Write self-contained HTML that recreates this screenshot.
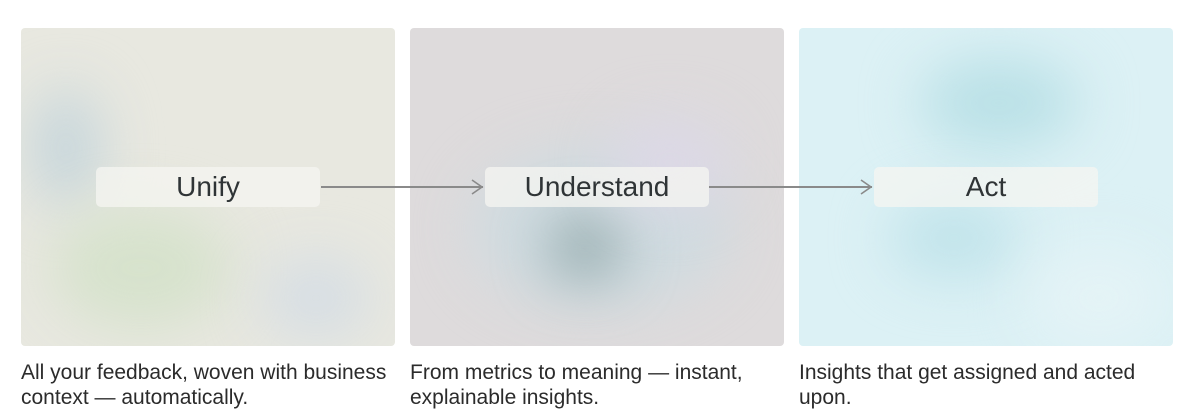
<!DOCTYPE html>
<html><head><style>
body{margin:0;width:1197px;height:419px;background:#fff;position:relative;overflow:hidden;font-family:"Liberation Sans",sans-serif}
.p{position:absolute;top:28px;width:374px;height:318px;border-radius:4px;overflow:hidden}
.b{position:absolute;border-radius:50%;filter:blur(28px)}
.l{position:absolute;top:167px;width:224px;height:40px;border-radius:5px;background:rgba(245,245,242,.75);font-size:28px;color:#2f3436;text-align:center;line-height:40px}
.c{position:absolute;top:360px;font-size:21px;line-height:25px;color:#2b2b2b;width:400px;white-space:nowrap}
.a{position:absolute;top:186px;height:2px;background:#8a8a8a}
</style></head><body>
<div class="p" style="left:21px;background:#e8e8e0">
 <div class="b" style="left:10px;top:60px;width:70px;height:120px;background:#c5d5db"></div>
 <div class="b" style="left:30px;top:180px;width:180px;height:120px;background:#d6e2cc"></div>
 <div class="b" style="left:240px;top:230px;width:110px;height:80px;background:#d5dde4"></div>
</div>
<div class="p" style="left:410px;background:#dedbdc">
 <div class="b" style="left:60px;top:120px;width:260px;height:160px;background:#cfdbe0"></div>
 <div class="b" style="left:140px;top:190px;width:70px;height:60px;background:#8fa6a8"></div>
 <div class="b" style="left:200px;top:90px;width:120px;height:90px;background:#dcd8e6"></div>
</div>
<div class="p" style="left:799px;background:#dcf1f5">
 <div class="b" style="left:120px;top:30px;width:160px;height:90px;background:#b9e0e6"></div>
 <div class="b" style="left:90px;top:170px;width:130px;height:80px;background:#c0e3ea"></div>
 <div class="b" style="left:230px;top:220px;width:140px;height:100px;background:#e4f3f6"></div>
</div>
<div class="l" style="left:96px">Unify</div>
<div class="l" style="left:485px">Understand</div>
<div class="l" style="left:874px">Act</div>
<div class="a" style="left:321px;width:162px"></div>
<svg style="position:absolute;left:470px;top:179px" width="14" height="16"><path d="M2 1 L12 8 L2 15" fill="none" stroke="#8a8a8a" stroke-width="1.6"/></svg>
<div class="a" style="left:709px;width:163px"></div>
<svg style="position:absolute;left:859px;top:179px" width="14" height="16"><path d="M2 1 L12 8 L2 15" fill="none" stroke="#8a8a8a" stroke-width="1.6"/></svg>
<div class="c" style="left:21px">All your feedback, woven with business<br>context — automatically.</div>
<div class="c" style="left:410px">From metrics to meaning — instant,<br>explainable insights.</div>
<div class="c" style="left:799px">Insights that get assigned and acted<br>upon.</div>
</body></html>
